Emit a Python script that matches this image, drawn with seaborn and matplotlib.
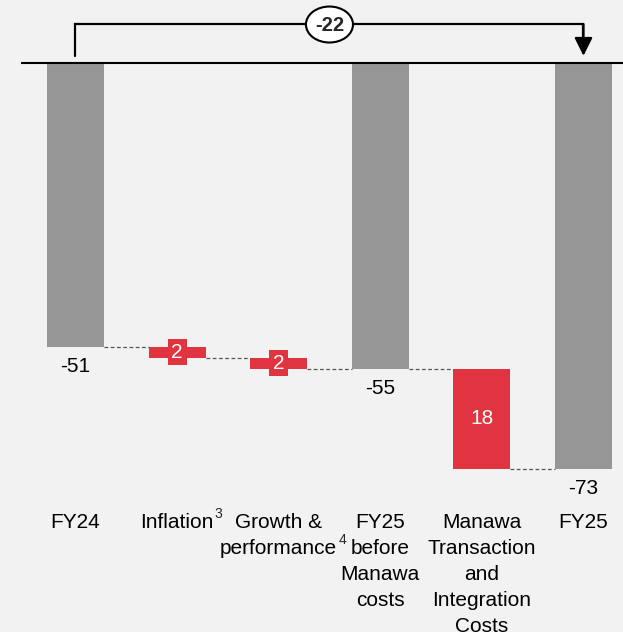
import numpy as np
import pandas as pd
import seaborn as sns
import matplotlib.pyplot as plt
from matplotlib.patches import Ellipse

# --- data -------------------------------------------------------------
categories = ["FY24", "Inflation", "Growth & performance",
              "FY25 before Manawa costs",
              "Manawa Transaction and Integration Costs", "FY25"]
tick_labels = ["FY24", "Inflation", "Growth &\nperformance",
               "FY25\nbefore\nManawa\ncosts",
               "Manawa\nTransaction\nand\nIntegration\nCosts", "FY25"]
footnotes = {1: "3", 2: "4"}   # superscript markers on tick labels
values = [-51, -2, -2, -55, -18, -73]
is_total = [True, False, False, True, False, True]
value_labels = ["-51", "2", "2", "-55", "18", "-73"]
total_change = "-22"

GREY = "#969696"
RED = "#E03440"
BG = "#F2F2F2"

sns.set_theme(style="white", rc={"figure.facecolor": BG, "axes.facecolor": BG})
plt.rcParams["font.family"] = ["Liberation Sans", "DejaVu Sans"]

# running totals -> bar bottoms / ends
bottoms, ends = [], []
running = 0
for v, tot in zip(values, is_total):
    if tot:
        bottoms.append(0)
        running = v
    else:
        bottoms.append(running)
        running = running + v
    ends.append(running)

df = pd.DataFrame({"category": categories, "height": values})

fig = plt.figure(figsize=(6.23, 6.32), dpi=100)
ax = fig.add_axes([21 / 623, 132 / 632, 602 / 623, 500 / 632])

sns.barplot(data=df, x="category", y="height", order=categories,
            bottom=bottoms, width=0.561, color=GREY, saturation=1,
            errorbar=None, linewidth=0, ax=ax)

for p, tot in zip(ax.patches, is_total):
    if not tot:
        p.set_facecolor(RED)

ax.set_xlim(-0.536, 5.389)
ax.set_ylim(-78.6, 11.33)

# zero line
ax.axhline(0, color="black", lw=1.5, zorder=3)

# dashed connectors between bars
half = 0.561 / 2
for i in range(len(values) - 1):
    ax.plot([i + half, i + 1 - half], [ends[i], ends[i]], color="#555555",
            lw=0.9, ls=(0, (3, 2)), zorder=1)

# value labels
fs = 15
for i, (lab, tot) in enumerate(zip(value_labels, is_total)):
    if tot:
        ax.annotate(lab, (i, ends[i]), xytext=(0, -7.5), textcoords="offset points",
                    ha="center", va="top", fontsize=fs, color="black")
    else:
        mid = bottoms[i] + values[i] / 2
        if abs(values[i]) < 5:
            ax.text(i, mid, lab, ha="center", va="center", fontsize=fs, color="white",
                    bbox=dict(boxstyle="square,pad=0.18", fc=RED, ec="none"))
        else:
            ax.text(i, mid, lab, ha="center", va="center", fontsize=fs, color="white")

# bracket with total change
br_y = 7.0
ax.plot([0, 0, 5, 5], [1.3, br_y, br_y, 4.0], color="black", lw=1.6,
        solid_joinstyle="miter", zorder=3)
ax.annotate("", xy=(5, 1.3), xytext=(5, br_y),
            arrowprops=dict(arrowstyle="-|>,head_length=1.1,head_width=0.55",
                            color="black", lw=1.6, shrinkA=0, shrinkB=0,
                            mutation_scale=10))
ax.add_patch(Ellipse((2.5, 6.92), 0.463, 6.47, fc="white", ec="black",
                     lw=1.5, zorder=4))
ax.text(2.5, 6.8, total_change, ha="center", va="center", fontsize=14.5,
        fontweight="bold", zorder=5)

ax.set_xticks(range(len(categories)))
ax.set_xticklabels(tick_labels, fontsize=fs, linespacing=1.47)
ax.tick_params(axis="x", length=0, pad=9, colors="black")
ax.set_yticks([])
ax.set_xlabel("")
ax.set_ylabel("")
sns.despine(ax=ax, left=True, bottom=True)

# superscript footnote markers placed next to the (centred) tick labels
fig.canvas.draw()
W, H = fig.bbox.width, fig.bbox.height
for idx, mark in footnotes.items():
    bb = ax.get_xticklabels()[idx].get_window_extent()
    n_lines = tick_labels[idx].count("\n")
    top = bb.y1 - n_lines * 26 + 5
    fig.text((bb.x1 + 1) / W, top / H, mark, fontsize=10, ha="left", va="top")

fig.savefig("out.png", dpi=100, facecolor=BG)
